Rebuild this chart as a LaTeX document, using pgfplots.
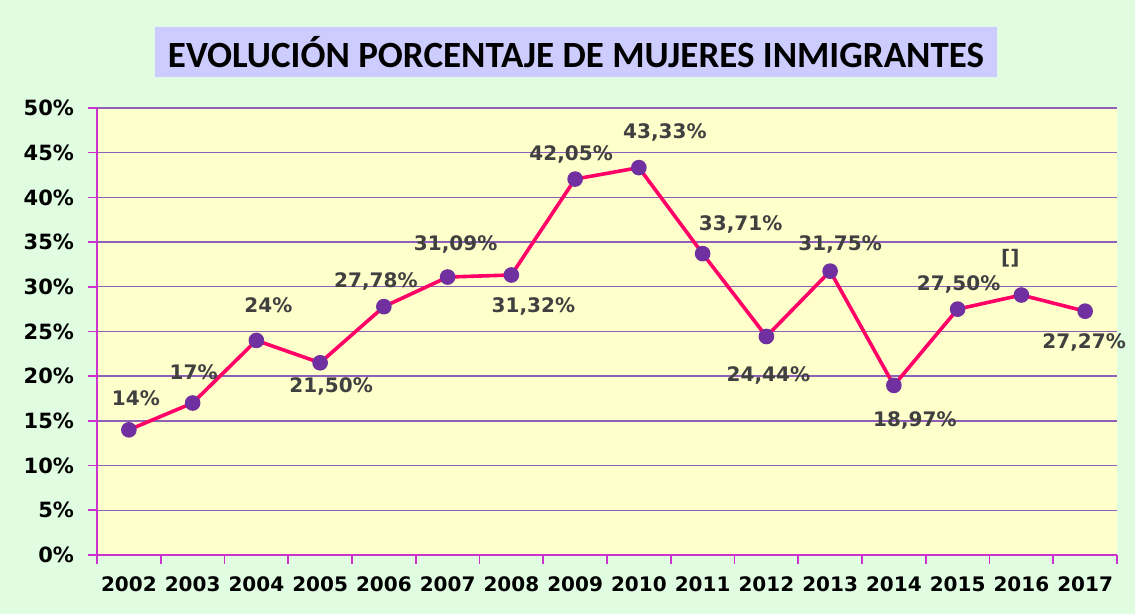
\documentclass[border=0pt]{standalone}
\usepackage{fontspec}
\setmainfont{DejaVu Sans}
\newfontfamily\titlefont{Carlito}
\usepackage{pgfplots}
\usepackage{pgfplotstable}
\pgfplotsset{compat=1.18}
\usetikzlibrary{backgrounds,calc}

\definecolor{bggreen}{HTML}{E1FDE1}
\definecolor{plotyellow}{HTML}{FFFFCC}
\definecolor{titlebox}{HTML}{CCCCFF}
\definecolor{gridpurple}{HTML}{9060B8}
\definecolor{axismag}{HTML}{CC33CC}
\definecolor{linepink}{HTML}{FF0066}
\definecolor{markpurple}{HTML}{7030A0}
\definecolor{labgray}{HTML}{404040}

% year index, percentage, label, label offsets (pt)
\pgfplotstableread{
x  y      lab       dx    dy
0  14     14\%      3.5   16
1  17     17\%      0.5   15.5
2  24     24\%      6     17.5
3  21.5   21,50\%   5.5   -12
4  27.78  27,78\%   -4    12.5
5  31.09  31,09\%   4     16.5
6  31.32  31,32\%   11    -16
7  42.05  42,05\%   -2    12.5
8  43.33  43,33\%   13    17.5
9  33.71  33,71\%   19    14.5
10 24.44  24,44\%   1     -19.5
11 31.75  31,75\%   5     13.5
12 18.97  18,97\%   10.5  -17.5
13 27.50  27,50\%   0.5   12.5
14 29.08  []        -5.5  18.5
15 27.27  27,27\%   -0.5  -15.5
}\datatable

\begin{document}
\begin{tikzpicture}
\begin{axis}[
    name=ax,
    scale only axis,
    width=510pt, height=223.5pt,
    xmin=-0.5, xmax=15.5,
    ymin=0, ymax=50,
    xtick={0,...,15},
    xticklabels={2002,2003,2004,2005,2006,2007,2008,2009,2010,2011,2012,2013,2014,2015,2016,2017},
    minor xtick={-0.5,0.5,...,15.5},
    major x tick style={draw=none},
    ytick={0,5,...,50},
    yticklabel={\pgfmathprintnumber{\tick}\%},
    /pgf/number format/assume math mode=true,
    ticklabel style={font=\bfseries\fontsize{10}{12}\selectfont, text=black},
    xticklabel style={yshift=-3pt},
    yticklabel style={xshift=-3.5pt, font=\bfseries\fontsize{10.5}{12}\selectfont},
    tick align=outside,
    tick pos=left,
    major tick length=4.5pt,
    minor tick length=4.5pt,
    tick style={axismag, line width=0.8pt},
    axis x line*=bottom,
    axis y line*=left,
    axis line style={axismag, line width=0.8pt, -},
    ymajorgrids,
    grid style={gridpurple, line width=0.7pt},
    axis background/.style={fill=plotyellow},
    clip=false,
]
\addplot[
    linepink, line width=1.8pt,
    mark=*, mark size=3pt,
    mark options={fill=markpurple, draw=markpurple},
    point meta=explicit symbolic,
    visualization depends on={\thisrow{dx} \as \dx},
    visualization depends on={\thisrow{dy} \as \dy},
    nodes near coords,
    every node near coord/.append style={anchor=center, xshift=\dx pt, yshift=\dy pt,
        font=\bfseries\fontsize{10}{12}\selectfont, text=labgray, inner sep=0pt},
] table[x=x, y=y, meta=lab] {\datatable};
\end{axis}
\node[fill=titlebox, minimum width=421pt, minimum height=25pt, inner sep=0pt,
      font=\titlefont\bfseries\fontsize{18.5}{22}\selectfont, text=black]
  at ($(ax.north west)+(239.5pt,28pt)$) {EVOLUCIÓN PORCENTAJE DE MUJERES INMIGRANTES};
\begin{pgfonlayer}{background}
\fill[bggreen] ($(ax.south west)+(-48.5pt,-29.5pt)$) rectangle ($(ax.north east)+(9pt,54pt)$);
\end{pgfonlayer}
\useasboundingbox ($(ax.south west)+(-48.5pt,-29.5pt)$) rectangle ($(ax.north east)+(9pt,54pt)$);
\end{tikzpicture}
\end{document}
